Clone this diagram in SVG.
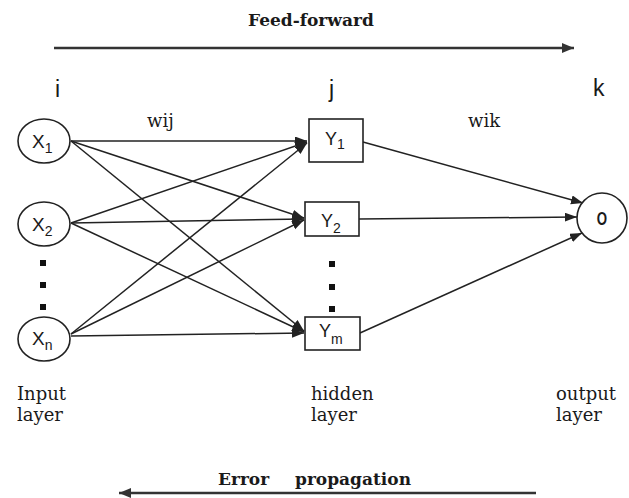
<svg xmlns="http://www.w3.org/2000/svg" width="629" height="498" viewBox="0 0 629 498">
<style>
.bg{fill:#ffffff}
.node{fill:#ffffff;stroke:#222;stroke-width:1.6}
.edge{stroke:#222;stroke-width:1.5;fill:none}
.big{stroke:#333;stroke-width:2.6;fill:none}
.sans{font-family:"Liberation Sans",Arial,sans-serif;fill:#1a1a1a}
.serif{font-family:"DejaVu Serif","Liberation Serif",serif;fill:#1a1a1a;font-size:18px}
.bold{font-family:"DejaVu Serif","Liberation Serif",serif;font-weight:bold;fill:#1a1a1a;font-size:17px}
.dot{fill:#111}
</style>
<defs>
<marker id="ah" markerUnits="userSpaceOnUse" markerWidth="14" markerHeight="10" refX="12" refY="4.5" orient="auto">
<path d="M0,0 L12,4.5 L0,9 z" fill="#222"/>
</marker>
<marker id="bh" markerUnits="userSpaceOnUse" markerWidth="14" markerHeight="12" refX="12" refY="5" orient="auto">
<path d="M0,0 L12,5 L0,10 z" fill="#333"/>
</marker>
</defs>
<rect class="bg" x="0" y="0" width="629" height="498"/>

<g id="labels">
<text class="bold" x="248" y="26">Feed-forward</text>
<text class="sans" x="55" y="97" font-size="23">i</text>
<text class="sans" x="329" y="97" font-size="23">j</text>
<text class="sans" x="593" y="96" font-size="23">k</text>
<text class="serif" x="147" y="127">wij</text>
<text class="serif" x="468" y="127">wik</text>
<text class="serif" x="17" y="400">Input</text>
<text class="serif" x="17" y="421">layer</text>
<text class="serif" x="311" y="400">hidden</text>
<text class="serif" x="311" y="421">layer</text>
<text class="serif" x="556" y="400">output</text>
<text class="serif" x="556" y="421">layer</text>
<text class="bold" x="218" y="485">Error<tspan x="295">propagation</tspan></text>
</g>

<g id="connectors">
<line class="big" x1="54" y1="48" x2="574" y2="48" marker-end="url(#bh)"/>
<line class="big" x1="536" y1="493" x2="119" y2="493" marker-end="url(#bh)"/>
<line class="edge" x1="71" y1="141" x2="307" y2="141" marker-end="url(#ah)"/>
<line class="edge" x1="71" y1="141" x2="304" y2="218" marker-end="url(#ah)"/>
<line class="edge" x1="71" y1="141" x2="304" y2="331" marker-end="url(#ah)"/>
<line class="edge" x1="71" y1="223" x2="307" y2="142" marker-end="url(#ah)"/>
<line class="edge" x1="71" y1="223" x2="304" y2="219" marker-end="url(#ah)"/>
<line class="edge" x1="71" y1="223" x2="304" y2="332" marker-end="url(#ah)"/>
<line class="edge" x1="71" y1="334" x2="307" y2="143" marker-end="url(#ah)"/>
<line class="edge" x1="71" y1="334" x2="304" y2="220" marker-end="url(#ah)"/>
<line class="edge" x1="71" y1="336" x2="304" y2="333" marker-end="url(#ah)"/>
<line class="edge" x1="363" y1="142" x2="583" y2="203" marker-end="url(#ah)"/>
<line class="edge" x1="359" y1="219" x2="577" y2="217" marker-end="url(#ah)"/>
<line class="edge" x1="360" y1="333" x2="582" y2="233" marker-end="url(#ah)"/>
</g>

<g id="x1">
<ellipse class="node" cx="44" cy="141" rx="26" ry="22"/>
<text class="sans" x="32" y="148" font-size="19">X<tspan font-size="14" dy="5">1</tspan></text>
</g>
<g id="x2">
<ellipse class="node" cx="44" cy="224" rx="26" ry="22"/>
<text class="sans" x="32" y="231" font-size="19">X<tspan font-size="14" dy="5">2</tspan></text>
</g>
<g id="xdots">
<rect class="dot" x="40" y="260" width="6" height="6"/>
<rect class="dot" x="40" y="282" width="6" height="6"/>
<rect class="dot" x="40" y="304" width="6" height="6"/>
</g>
<g id="xn">
<ellipse class="node" cx="44" cy="339" rx="26" ry="22"/>
<text class="sans" x="32" y="345" font-size="19">X<tspan font-size="14" dy="5">n</tspan></text>
</g>

<g id="y1">
<rect class="node" x="309" y="119" width="54" height="43"/>
<text class="sans" x="325" y="145" font-size="18">Y<tspan font-size="14" dy="4">1</tspan></text>
</g>
<g id="y2">
<rect class="node" x="305" y="202" width="54" height="34"/>
<text class="sans" x="321" y="227" font-size="18">Y<tspan font-size="14" dy="6">2</tspan></text>
</g>
<g id="ydots">
<rect class="dot" x="329" y="261" width="6" height="6"/>
<rect class="dot" x="329" y="284" width="6" height="6"/>
<rect class="dot" x="329" y="306" width="6" height="6"/>
</g>
<g id="ym">
<rect class="node" x="305" y="317" width="55" height="33"/>
<text class="sans" x="319" y="337" font-size="18">Y<tspan font-size="14" dy="7">m</tspan></text>
</g>

<g id="o">
<ellipse class="node" cx="602" cy="218" rx="25" ry="25"/>
<text class="sans" x="602" y="225" font-size="19" font-weight="bold" text-anchor="middle" transform="translate(602 0) scale(0.7 1) translate(-602 0)">O</text>
</g>
</svg>
